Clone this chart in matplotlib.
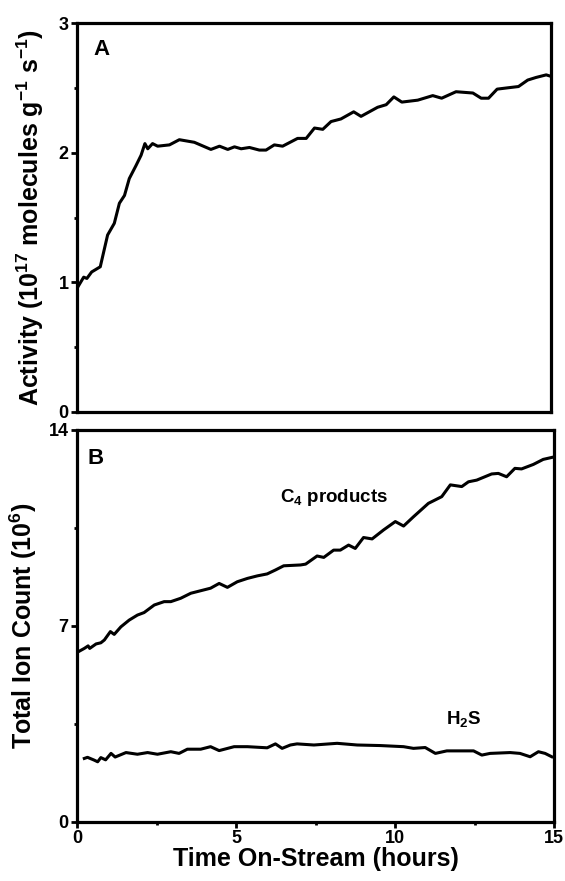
import matplotlib
matplotlib.use("Agg")
import matplotlib.pyplot as plt
from matplotlib.ticker import MultipleLocator

plt.rcParams['font.family'] = ['Liberation Sans', 'DejaVu Sans']
plt.rcParams['font.weight'] = 'bold'
plt.rcParams['mathtext.fontset'] = 'custom'
plt.rcParams['mathtext.bf'] = 'Liberation Sans:bold'
plt.rcParams['mathtext.rm'] = 'Liberation Sans:bold'
plt.rcParams['mathtext.default'] = 'bf'

# Panel A: activity
act_t = [0.04, 0.21, 0.31, 0.46, 0.73, 0.96, 1.17, 1.33, 1.49, 1.64, 1.85, 2.01, 2.13, 2.22,
         2.37, 2.53, 2.9, 3.21, 3.68, 4.2, 4.47, 4.73, 4.94, 5.15, 5.41, 5.72, 5.93, 6.19,
         6.45, 6.92, 7.19, 7.45, 7.71, 7.97, 8.28, 8.68, 8.91, 9.43, 9.70, 9.94, 10.19,
         10.69, 11.16, 11.44, 11.89, 12.42, 12.68, 12.91, 13.18, 13.51, 13.85, 14.14,
         14.40, 14.72, 14.85]
act_v = [0.97, 1.04, 1.03, 1.08, 1.12, 1.365, 1.455, 1.61, 1.67, 1.80, 1.90, 1.98, 2.07, 2.03,
         2.07, 2.05, 2.06, 2.10, 2.08, 2.025, 2.05, 2.025, 2.045, 2.03, 2.04, 2.02, 2.02, 2.06,
         2.05, 2.11, 2.11, 2.19, 2.18, 2.24, 2.26, 2.315, 2.28, 2.35, 2.37, 2.43, 2.39,
         2.405, 2.44, 2.42, 2.47, 2.46, 2.42, 2.42, 2.49, 2.50, 2.51, 2.56,
         2.58, 2.60, 2.59]

# Panel B: C4 products
c4_t = [0.04, 0.23, 0.35, 0.4, 0.6, 0.75, 0.86, 1.05, 1.17, 1.38, 1.64, 1.9, 2.11, 2.43,
        2.74, 2.95, 3.26, 3.58, 3.89, 4.2, 4.47, 4.73, 5.04, 5.36, 5.67, 5.98, 6.24, 6.5,
        7.03, 7.19, 7.55, 7.76, 8.07, 8.28, 8.54, 8.75, 9.01, 9.28, 9.64, 10.01, 10.27,
        10.58, 11.05, 11.47, 11.74, 12.1, 12.31, 12.57, 13.04, 13.25, 13.51, 13.77, 13.98,
        14.35, 14.66, 14.93]
c4_v = [6.08, 6.20, 6.29, 6.2, 6.36, 6.40, 6.5, 6.80, 6.7, 6.97, 7.21, 7.39, 7.48, 7.75,
        7.87, 7.87, 7.99, 8.17, 8.26, 8.35, 8.52, 8.38, 8.58, 8.70, 8.79, 8.86, 9.0, 9.15,
        9.18, 9.21, 9.5, 9.45, 9.71, 9.71, 9.89, 9.77, 10.16, 10.11, 10.43, 10.73, 10.57,
        10.90, 11.38, 11.62, 12.04, 11.98, 12.15, 12.21, 12.43, 12.45, 12.33, 12.63, 12.61,
        12.77, 12.95, 13.02]

# Panel B: H2S
h2s_t = [0.23, 0.33, 0.54, 0.65, 0.75, 0.9, 1.07, 1.2, 1.54, 1.9, 2.22, 2.53, 2.95, 3.21,
         3.47, 3.89, 4.2, 4.47, 4.94, 5.36, 5.98, 6.24, 6.45, 6.71, 6.92, 7.45, 8.18, 8.81,
         9.54, 10.27, 10.58, 10.95, 11.27, 11.63, 12.47, 12.73, 12.99, 13.62, 13.93, 14.25,
         14.51, 14.72, 14.93]
h2s_v = [2.27, 2.31, 2.21, 2.15, 2.3, 2.22, 2.45, 2.32, 2.48, 2.42, 2.48, 2.42, 2.51, 2.45,
         2.6, 2.6, 2.69, 2.55, 2.69, 2.69, 2.65, 2.79, 2.63, 2.75, 2.79, 2.75, 2.81, 2.75,
         2.73, 2.69, 2.63, 2.66, 2.45, 2.54, 2.54, 2.39, 2.45, 2.48, 2.45, 2.33,
         2.51, 2.45, 2.33]

fig = plt.figure(figsize=(5.65, 8.81), dpi=100)
axA = fig.add_axes([77/565, 1-412/881, 474/565, 389/881])
axB = fig.add_axes([77/565, 1-822/881, 477/565, 392/881])

lw_line = 2.2
for ax in (axA, axB):
    for sp in ax.spines.values():
        sp.set_linewidth(2.3)
    ax.tick_params(which='major', direction='out', length=4.0, width=2.0, labelsize=13, pad=2)
    ax.tick_params(which='minor', direction='out', length=2.5, width=2.0)

axA.plot(act_t, act_v, color='black', lw=lw_line)
axA.set_xlim(0, 14.87)
axA.set_ylim(0, 3)
axA.yaxis.set_major_locator(MultipleLocator(1))
axA.yaxis.set_minor_locator(MultipleLocator(0.5))
axA.set_xticks([])
axA.set_ylabel('Activity (10$^{17}$ molecules g$^{-1}$ s$^{-1}$)', fontsize=18, fontweight='bold')
axA.yaxis.set_label_coords(-0.066, 0.5)
axA.text(0.034, 0.959, 'A', transform=axA.transAxes, fontsize=16, fontweight='bold', va='top')

axB.plot(c4_t, c4_v, color='black', lw=lw_line)
axB.plot(h2s_t, h2s_v, color='black', lw=lw_line)
axB.set_xlim(0, 15)
axB.set_ylim(0, 14)
axB.yaxis.set_major_locator(MultipleLocator(7))
axB.yaxis.set_minor_locator(MultipleLocator(3.5))
axB.xaxis.set_major_locator(MultipleLocator(5))
axB.xaxis.set_minor_locator(MultipleLocator(2.5))
axB.set_ylabel('Total Ion Count (10$^{6}$)', fontsize=18, fontweight='bold')
axB.yaxis.set_label_coords(-0.080, 0.5)
axB.set_xlabel('Time On-Stream (hours)', fontsize=18, fontweight='bold', labelpad=0)
axB.text(0.021, 0.954, 'B', transform=axB.transAxes, fontsize=16, fontweight='bold', va='top')
axB.text(8.07, 11.6, 'C$_{4}$ products', fontsize=13.5, fontweight='bold', ha='center', va='center')
axB.text(12.17, 3.68, 'H$_{2}$S', fontsize=13.5, fontweight='bold', ha='center', va='center')

for ax in (axA, axB):
    for lab in ax.get_xticklabels() + ax.get_yticklabels():
        lab.set_fontweight('bold')

fig.savefig('out.png', dpi=100)
